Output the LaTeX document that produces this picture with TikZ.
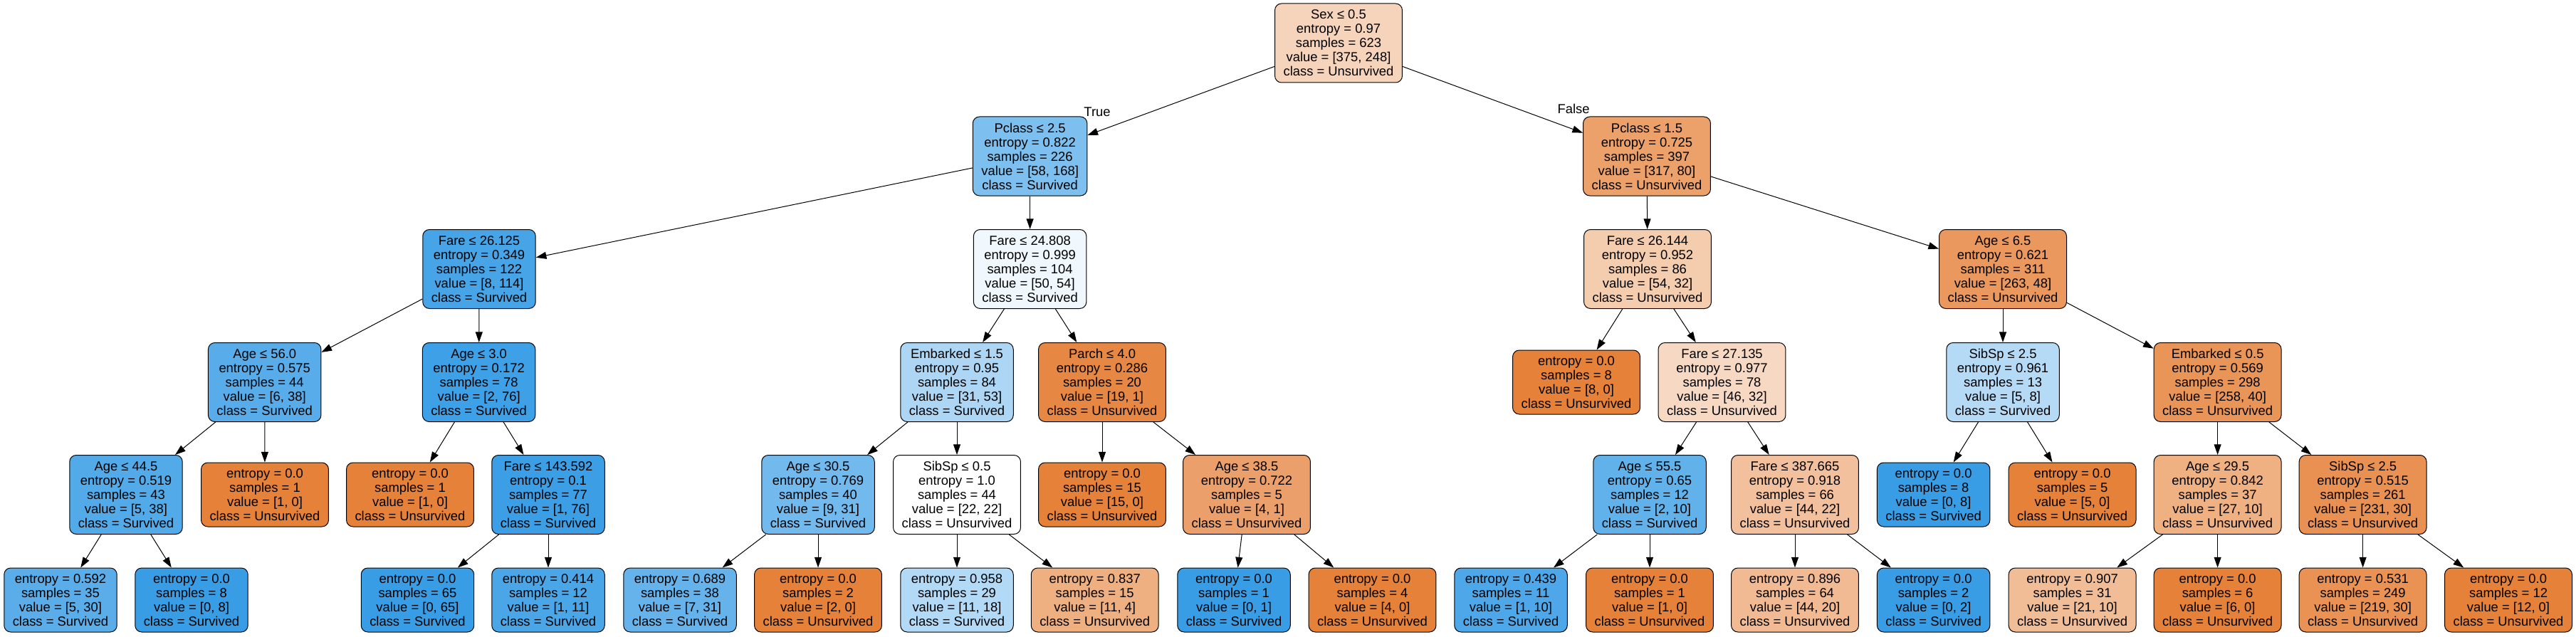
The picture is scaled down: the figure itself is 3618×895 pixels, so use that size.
\documentclass[tikz,border=0pt]{standalone}
\usepackage{fontspec}
\setmainfont{Liberation Sans}
\usetikzlibrary{arrows.meta}
\definecolor{oc}{RGB}{229,129,57}
\definecolor{bc}{RGB}{57,157,229}
\tikzset{
  tn/.style={draw=black, rounded corners=7pt, line width=0.75pt, align=center,
    inner xsep=9pt, inner ysep=0pt, font=\fontsize{13.8}{15}\selectfont},
  nfive/.style={tn, minimum height=83.25pt},
  nfour/.style={tn, minimum height=67.5pt},
  conn/.style={-{Triangle[length=11pt,width=7.5pt]}, line width=0.75pt},
  lbl/.style={font=\fontsize{13.8}{15}\selectfont, inner sep=0pt}
}
\begin{document}
\begin{tikzpicture}[x=0.75pt, y=-0.75pt]
\useasboundingbox (0,0) rectangle (3618,895);
% level 0
\node[nfive, fill=oc!33.9!white] (root) at (1880,60.5) {Sex ≤ 0.5\\entropy = 0.97\\samples = 623\\value = [375, 248]\\class = Unsurvived};
% level 1
\node[nfive, fill=bc!65.5!white] (p25) at (1446.6,219.5) {Pclass ≤ 2.5\\entropy = 0.822\\samples = 226\\value = [58, 168]\\class = Survived};
\node[nfive, fill=oc!74.8!white] (p15) at (2313,219.5) {Pclass ≤ 1.5\\entropy = 0.725\\samples = 397\\value = [317, 80]\\class = Unsurvived};
% level 2
\node[nfive, fill=bc!93!white] (f26125) at (673,378) {Fare ≤ 26.125\\entropy = 0.349\\samples = 122\\value = [8, 114]\\class = Survived};
\node[nfive, fill=bc!7.4!white] (f24808) at (1446.6,378) {Fare ≤ 24.808\\entropy = 0.999\\samples = 104\\value = [50, 54]\\class = Survived};
\node[nfive, fill=oc!40.7!white] (f26144) at (2314,378) {Fare ≤ 26.144\\entropy = 0.952\\samples = 86\\value = [54, 32]\\class = Unsurvived};
\node[nfive, fill=oc!81.7!white] (a65) at (2813,378) {Age ≤ 6.5\\entropy = 0.621\\samples = 311\\value = [263, 48]\\class = Unsurvived};
% level 3
\node[nfive, fill=bc!84.2!white] (a56) at (371.7,537) {Age ≤ 56.0\\entropy = 0.575\\samples = 44\\value = [6, 38]\\class = Survived};
\node[nfive, fill=bc!97.4!white] (a3) at (672.6,537) {Age ≤ 3.0\\entropy = 0.172\\samples = 78\\value = [2, 76]\\class = Survived};
\node[nfive, fill=bc!41.5!white] (e15) at (1344,537) {Embarked ≤ 1.5\\entropy = 0.95\\samples = 84\\value = [31, 53]\\class = Survived};
\node[nfive, fill=oc!95!white] (pa4) at (1548,537) {Parch ≤ 4.0\\entropy = 0.286\\samples = 20\\value = [19, 1]\\class = Unsurvived};
\node[nfour, fill=oc] (l8) at (2214,537) {entropy = 0.0\\samples = 8\\value = [8, 0]\\class = Unsurvived};
\node[nfive, fill=oc!30.4!white] (f27) at (2418.5,537) {Fare ≤ 27.135\\entropy = 0.977\\samples = 78\\value = [46, 32]\\class = Unsurvived};
\node[nfive, fill=bc!37.5!white] (s25a) at (2813,537) {SibSp ≤ 2.5\\entropy = 0.961\\samples = 13\\value = [5, 8]\\class = Survived};
\node[nfive, fill=oc!84.5!white] (e05) at (3114.6,537) {Embarked ≤ 0.5\\entropy = 0.569\\samples = 298\\value = [258, 40]\\class = Unsurvived};
% level 4
\node[nfive, fill=bc!86.8!white] (a445) at (177,695) {Age ≤ 44.5\\entropy = 0.519\\samples = 43\\value = [5, 38]\\class = Survived};
\node[nfour, fill=oc] (lA) at (372,695) {entropy = 0.0\\samples = 1\\value = [1, 0]\\class = Unsurvived};
\node[nfour, fill=oc] (lB) at (576,695) {entropy = 0.0\\samples = 1\\value = [1, 0]\\class = Unsurvived};
\node[nfive, fill=bc!98.7!white] (f143) at (770,695) {Fare ≤ 143.592\\entropy = 0.1\\samples = 77\\value = [1, 76]\\class = Survived};
\node[nfive, fill=bc!71!white] (a305) at (1149,695) {Age ≤ 30.5\\entropy = 0.769\\samples = 40\\value = [9, 31]\\class = Survived};
\node[nfive, fill=white] (s05) at (1344,695) {SibSp ≤ 0.5\\entropy = 1.0\\samples = 44\\value = [22, 22]\\class = Unsurvived};
\node[nfour, fill=oc] (l15) at (1548,695) {entropy = 0.0\\samples = 15\\value = [15, 0]\\class = Unsurvived};
\node[nfive, fill=oc!75!white] (a385) at (1751,695) {Age ≤ 38.5\\entropy = 0.722\\samples = 5\\value = [4, 1]\\class = Unsurvived};
\node[nfive, fill=bc!80!white] (a555) at (2317,695) {Age ≤ 55.5\\entropy = 0.65\\samples = 12\\value = [2, 10]\\class = Survived};
\node[nfive, fill=oc!50!white] (f387) at (2521,695) {Fare ≤ 387.665\\entropy = 0.918\\samples = 66\\value = [44, 22]\\class = Unsurvived};
\node[nfour, fill=bc] (l08) at (2715.6,695) {entropy = 0.0\\samples = 8\\value = [0, 8]\\class = Survived};
\node[nfour, fill=oc] (l5) at (2910.6,695) {entropy = 0.0\\samples = 5\\value = [5, 0]\\class = Unsurvived};
\node[nfive, fill=oc!63!white] (a295) at (3114.6,695) {Age ≤ 29.5\\entropy = 0.842\\samples = 37\\value = [27, 10]\\class = Unsurvived};
\node[nfive, fill=oc!87!white] (s25b) at (3318.6,695) {SibSp ≤ 2.5\\entropy = 0.515\\samples = 261\\value = [231, 30]\\class = Unsurvived};
% level 5
\node[nfour, fill=bc!83.3!white] (z1) at (85,843) {entropy = 0.592\\samples = 35\\value = [5, 30]\\class = Survived};
\node[nfour, fill=bc] (z2) at (269,843) {entropy = 0.0\\samples = 8\\value = [0, 8]\\class = Survived};
\node[nfour, fill=bc] (z3) at (586.5,843) {entropy = 0.0\\samples = 65\\value = [0, 65]\\class = Survived};
\node[nfour, fill=bc!90.9!white] (z4) at (770,843) {entropy = 0.414\\samples = 12\\value = [1, 11]\\class = Survived};
\node[nfour, fill=bc!77.4!white] (z5) at (955,843) {entropy = 0.689\\samples = 38\\value = [7, 31]\\class = Survived};
\node[nfour, fill=oc] (z6) at (1149,843) {entropy = 0.0\\samples = 2\\value = [2, 0]\\class = Unsurvived};
\node[nfour, fill=bc!38.9!white] (z7) at (1344,843) {entropy = 0.958\\samples = 29\\value = [11, 18]\\class = Survived};
\node[nfour, fill=oc!63.6!white] (z8) at (1537.7,843) {entropy = 0.837\\samples = 15\\value = [11, 4]\\class = Unsurvived};
\node[nfour, fill=bc] (z9) at (1733,843) {entropy = 0.0\\samples = 1\\value = [0, 1]\\class = Survived};
\node[nfour, fill=oc] (z10) at (1927.5,843) {entropy = 0.0\\samples = 4\\value = [4, 0]\\class = Unsurvived};
\node[nfour, fill=bc!90!white] (z11) at (2122,843) {entropy = 0.439\\samples = 11\\value = [1, 10]\\class = Survived};
\node[nfour, fill=oc] (z12) at (2317,843) {entropy = 0.0\\samples = 1\\value = [1, 0]\\class = Unsurvived};
\node[nfour, fill=oc!54.5!white] (z13) at (2521,843) {entropy = 0.896\\samples = 64\\value = [44, 20]\\class = Unsurvived};
\node[nfour, fill=bc] (z14) at (2715.6,843) {entropy = 0.0\\samples = 2\\value = [0, 2]\\class = Survived};
\node[nfour, fill=oc!52.4!white] (z15) at (2910.6,843) {entropy = 0.907\\samples = 31\\value = [21, 10]\\class = Unsurvived};
\node[nfour, fill=oc] (z16) at (3114.6,843) {entropy = 0.0\\samples = 6\\value = [6, 0]\\class = Unsurvived};
\node[nfour, fill=oc!86.3!white] (z17) at (3318.6,843) {entropy = 0.531\\samples = 249\\value = [219, 30]\\class = Unsurvived};
\node[nfour, fill=oc] (z18) at (3523,843) {entropy = 0.0\\samples = 12\\value = [12, 0]\\class = Unsurvived};
% edge labels
\node[lbl] (tl) at (1541,157) {True};
\node[lbl] (fl) at (2210,153) {False};
% edges
\draw[conn] (root) -- (p25);
\draw[conn] (root) -- (p15);
\draw[conn] (p25) -- (f26125);
\draw[conn] (p25) -- (f24808);
\draw[conn] (p15) -- (f26144);
\draw[conn] (p15) -- (a65);
\draw[conn] (f26125) -- (a56);
\draw[conn] (f26125) -- (a3);
\draw[conn] (f24808) -- (e15);
\draw[conn] (f24808) -- (pa4);
\draw[conn] (f26144) -- (l8);
\draw[conn] (f26144) -- (f27);
\draw[conn] (a65) -- (s25a);
\draw[conn] (a65) -- (e05);
\draw[conn] (a56) -- (a445);
\draw[conn] (a56) -- (lA);
\draw[conn] (a3) -- (lB);
\draw[conn] (a3) -- (f143);
\draw[conn] (e15) -- (a305);
\draw[conn] (e15) -- (s05);
\draw[conn] (pa4) -- (l15);
\draw[conn] (pa4) -- (a385);
\draw[conn] (f27) -- (a555);
\draw[conn] (f27) -- (f387);
\draw[conn] (s25a) -- (l08);
\draw[conn] (s25a) -- (l5);
\draw[conn] (e05) -- (a295);
\draw[conn] (e05) -- (s25b);
\draw[conn] (a445) -- (z1);
\draw[conn] (a445) -- (z2);
\draw[conn] (f143) -- (z3);
\draw[conn] (f143) -- (z4);
\draw[conn] (a305) -- (z5);
\draw[conn] (a305) -- (z6);
\draw[conn] (s05) -- (z7);
\draw[conn] (s05) -- (z8);
\draw[conn] (a385) -- (z9);
\draw[conn] (a385) -- (z10);
\draw[conn] (a555) -- (z11);
\draw[conn] (a555) -- (z12);
\draw[conn] (f387) -- (z13);
\draw[conn] (f387) -- (z14);
\draw[conn] (a295) -- (z15);
\draw[conn] (a295) -- (z16);
\draw[conn] (s25b) -- (z17);
\draw[conn] (s25b) -- (z18);
\end{tikzpicture}
\end{document}
